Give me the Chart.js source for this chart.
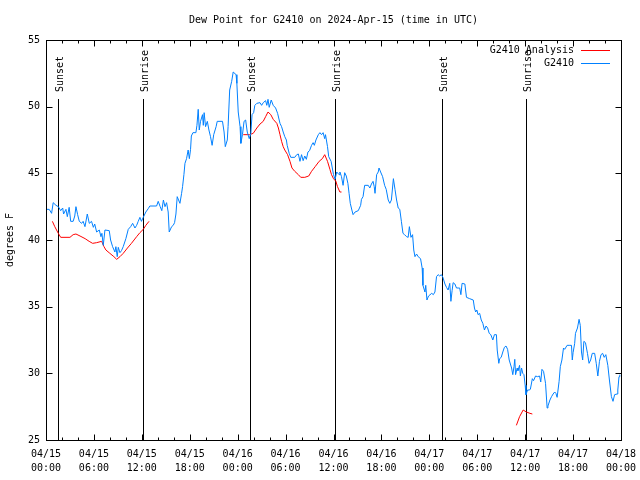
<!DOCTYPE html>
<html><head><meta charset="utf-8">
<script src="https://cdn.jsdelivr.net/npm/chart.js@4/dist/chart.umd.min.js"></script>
<style>html,body{margin:0;padding:0;background:#fff}canvas{display:block}</style>
</head><body>
<canvas id="c" width="640" height="480"></canvas>
<script>
const chartTitle = 'Dew Point for G2410 on 2024-Apr-15 (time in UTC)';
const yAxisTitle = 'degrees F';
const seriesNames = ['G2410 Analysis', 'G2410'];
const xTickLabels = ['04/15 00:00','04/15 06:00','04/15 12:00','04/15 18:00','04/16 00:00','04/16 06:00','04/16 12:00','04/16 18:00','04/17 00:00','04/17 06:00','04/17 12:00','04/17 18:00','04/18 00:00'];
const yTickValues = [25, 30, 35, 40, 45, 50, 55];
// hours since 04/15 00:00 UTC
const sunsetHours = [1.55, 25.57, 49.6];
const sunriseHours = [12.18, 36.2, 60.1];
const markerTopValue = 50.6;

const blueHours = [0.0,0.4,0.7,0.9,1.25,1.55,1.84,2.09,2.2,2.5,2.67,2.9,3.09,3.4,3.6,3.75,3.96,4.17,4.46,4.65,4.88,5.17,5.42,5.7,5.93,6.1,6.34,6.67,6.88,7.0,7.17,7.38,7.92,8.09,8.34,8.63,8.75,8.92,9.05,9.26,9.45,9.67,10.0,10.3,10.6,10.85,11.14,11.35,11.55,11.76,11.95,12.18,12.5,12.8,13.0,13.85,14.05,14.3,14.5,14.7,14.9,15.1,15.3,15.43,15.73,15.93,16.1,16.27,16.43,16.6,16.77,16.98,17.1,17.27,17.4,17.6,17.8,17.95,18.1,18.2,18.4,18.77,18.9,19.06,19.19,19.35,19.6,19.7,19.8,19.98,20.2,20.4,20.6,20.8,21.0,21.3,21.44,22.1,22.3,22.45,22.7,22.8,23.0,23.25,23.44,23.8,23.9,24.07,24.3,24.4,24.6,24.8,25.0,25.2,25.45,25.65,25.8,26.0,26.15,26.4,26.8,27.0,27.2,27.5,27.65,27.8,27.95,28.2,28.45,28.75,29.0,29.3,29.5,29.7,29.9,30.1,30.2,30.45,30.65,31.15,31.4,31.6,31.8,32.0,32.2,32.4,32.6,32.8,33.0,33.25,33.45,33.6,33.8,34.1,34.3,34.5,34.7,34.9,35.0,35.25,35.4,35.7,35.85,36.0,36.2,36.4,36.7,36.8,37.0,37.2,37.4,37.6,37.8,37.95,38.1,38.3,38.45,38.7,39.1,39.4,39.5,39.7,39.9,40.35,40.55,40.75,40.95,41.1,41.2,41.4,41.6,41.7,41.9,42.15,42.4,42.6,42.85,43.05,43.25,43.5,43.7,43.9,44.1,44.3,44.5,44.7,44.9,45.15,45.35,45.5,45.7,45.9,46.05,46.2,46.4,46.6,46.9,47.1,47.2,47.45,47.55,47.7,47.9,48.3,48.5,48.7,48.9,49.1,49.3,49.5,49.7,49.95,50.15,50.35,50.56,50.7,50.85,50.98,51.2,51.4,51.6,51.8,51.95,52.1,52.45,52.65,53.05,53.5,53.65,53.8,53.95,54.1,54.3,54.5,54.7,54.9,55.1,55.3,55.5,55.7,55.95,56.15,56.4,56.5,56.7,56.8,57.0,57.2,57.4,57.6,57.8,58.0,58.3,58.45,58.6,58.7,58.8,59.0,59.1,59.3,59.4,59.55,59.7,59.85,60.0,60.1,60.3,60.5,60.65,60.9,61.05,61.3,61.55,61.8,61.95,62.1,62.3,62.55,62.75,62.85,63.1,63.3,63.5,63.7,63.85,64.0,64.25,64.4,64.6,64.8,64.95,65.25,65.6,65.8,65.9,66.0,66.2,66.3,66.55,66.75,66.9,67.05,67.2,67.35,67.55,67.8,68.0,68.2,68.4,68.7,68.9,69.1,69.3,69.5,69.7,69.9,70.1,70.35,70.55,70.8,71.0,71.2,71.5,71.6,71.75,71.85];
const blueValues = [42.3,42.3,42.0,42.8,42.6,42.5,42.2,42.4,41.95,42.3,41.75,42.45,41.4,41.4,41.8,42.5,41.9,41.4,41.25,41.4,41.0,41.95,41.25,41.4,40.95,41.2,40.6,40.75,40.25,40.5,39.6,40.75,40.7,40.0,39.5,39.1,39.5,38.75,39.45,39.05,39.2,39.5,40.1,40.8,41.0,41.25,40.9,41.1,41.4,41.7,41.4,41.7,42.1,42.35,42.55,42.55,42.9,42.5,42.2,43.0,42.5,42.8,42.1,40.6,41.0,41.1,41.3,41.95,43.25,43.0,42.75,43.5,44.0,44.9,45.75,46.1,46.75,46.1,46.8,47.8,48.05,48.05,48.6,49.8,48.25,48.9,49.4,48.6,49.55,48.5,48.9,48.25,47.75,47.1,47.9,48.5,48.9,48.9,48.1,47.0,47.5,48.5,51.25,51.9,52.6,52.4,51.75,49.6,48.5,47.25,47.9,48.9,49.0,48.1,47.6,48.0,49.4,49.55,50.1,50.25,50.3,50.1,50.3,50.45,50.1,50.55,49.95,50.5,50.1,49.9,49.5,48.75,48.5,48.1,47.75,47.5,47.1,46.5,46.2,46.2,46.4,46.45,45.9,46.4,45.95,46.3,46.05,46.6,46.7,47.1,47.3,47.1,47.5,47.9,48.05,47.9,48.05,47.6,47.9,47.0,46.25,45.9,45.4,44.9,44.55,45.1,44.9,45.1,44.75,44.1,45.05,44.8,44.25,43.5,42.75,42.25,41.9,42.1,42.2,42.6,43.05,43.25,44.1,44.1,43.9,44.2,44.4,44.0,43.5,44.9,45.1,45.4,45.1,44.75,44.1,43.8,43.0,42.75,43.0,44.6,43.8,43.0,42.4,42.3,41.4,40.5,40.4,40.25,40.2,41.0,40.2,40.4,39.25,38.75,38.95,38.75,38.6,37.9,36.6,36.1,36.6,35.5,35.8,36.0,35.9,36.1,37.25,37.4,37.3,37.4,37.2,36.7,36.45,36.25,36.75,35.4,36.2,36.8,36.7,36.4,36.4,36.4,35.9,36.75,36.7,35.7,35.6,35.5,34.9,34.6,34.75,34.4,34.5,34.0,33.75,33.25,33.55,33.4,33.0,32.9,32.5,32.9,32.9,31.75,30.75,31.1,31.2,31.6,31.95,32.05,31.8,31.0,30.4,29.9,30.5,31.05,29.9,30.4,30.2,30.6,29.8,30.4,30.0,29.9,29.1,28.4,28.75,28.75,28.8,29.6,29.45,29.8,29.75,29.8,29.35,30.3,30.15,29.25,27.4,27.55,28.0,28.25,28.45,28.6,28.5,28.2,29.4,30.5,31.0,31.9,31.8,32.1,32.1,32.1,31.0,31.55,32.25,33.0,33.4,34.05,33.6,31.6,31.0,32.4,32.3,31.5,30.75,31.0,31.5,31.5,30.75,29.8,30.9,31.4,31.5,31.2,31.4,30.6,29.5,28.25,27.9,28.4,28.45,28.75,29.75,29.9];

const redHours = [0.8,1.1,1.54,1.84,3.0,3.4,3.75,4.26,4.9,5.4,5.84,6.34,6.97,7.26,7.5,8.0,8.5,8.85,9.26,9.67,10.2,10.7,11.35,11.76,12.18,12.5,12.9,18.0,24.7,25.5,25.95,26.4,26.8,27.2,27.5,27.8,28.15,28.45,28.9,29.1,29.3,29.5,29.7,29.9,30.25,30.55,30.8,31.15,31.6,31.9,32.4,32.9,33.25,33.7,34.2,34.6,34.9,35.25,35.55,35.75,36.0,36.3,36.5,36.8,37.0,48.0,58.9,59.3,59.75,60.15,60.6,60.9];
const redValues = [41.4,41.0,40.5,40.2,40.2,40.4,40.45,40.3,40.1,39.9,39.75,39.8,39.9,39.5,39.25,39.0,38.75,38.55,38.75,39.0,39.4,39.75,40.25,40.55,40.8,41.1,41.4,null,47.9,47.9,48.0,48.4,48.7,48.9,49.25,49.6,49.4,49.05,48.75,48.4,47.9,47.4,47.0,46.75,46.4,45.9,45.4,45.15,44.9,44.7,44.7,44.8,45.15,45.5,45.9,46.1,46.4,45.9,45.3,44.9,44.6,44.4,44.0,43.6,43.6,null,26.1,26.75,27.25,27.1,27.0,26.95];

const FAMILY = '"DejaVu Sans Mono", "Liberation Mono", monospace';
const FONT = '10px ' + FAMILY;
const RED = 'rgb(255,0,0)';
const BLUE = 'rgb(0,128,255)';

const gnuplotDecor = {
  id: 'gnuplotDecor',
  beforeDatasetsDraw(chart) {
    const {ctx, chartArea: a, scales: {x, y}} = chart;
    ctx.save();
    ctx.strokeStyle = '#000'; ctx.lineWidth = 1; ctx.fillStyle = '#000'; ctx.font = FONT;
    const topPx = Math.round(y.getPixelForValue(markerTopValue));
    const draw = (h, label) => {
      const px = Math.round(x.getPixelForValue(h)) + 0.5;
      ctx.beginPath(); ctx.moveTo(px, topPx); ctx.lineTo(px, a.bottom); ctx.stroke();
      ctx.save(); ctx.translate(px + 1.5, topPx - 7); ctx.rotate(-Math.PI / 2);
      ctx.textAlign = 'left'; ctx.textBaseline = 'middle'; ctx.fillText(label, 0, 0);
      ctx.restore();
    };
    sunsetHours.forEach(h => draw(h, 'Sunset'));
    sunriseHours.forEach(h => draw(h, 'Sunrise'));
    ctx.restore();
  },
  afterDraw(chart) {
    const {ctx, chartArea: a, scales: {x, y}} = chart;
    ctx.save();
    ctx.strokeStyle = '#000'; ctx.lineWidth = 1;
    const L = Math.round(a.left) + 0.5, R = Math.round(a.right) + 0.5;
    const T = Math.round(a.top) + 0.5, B = Math.round(a.bottom) + 0.5;
    ctx.strokeRect(L, T, R - L, B - T);
    const line = (x1, y1, x2, y2) => { ctx.beginPath(); ctx.moveTo(x1, y1); ctx.lineTo(x2, y2); ctx.stroke(); };
    for (let h = x.min; h <= x.max; h += 2) {
      const px = Math.round(x.getPixelForValue(h)) + 0.5;
      const len = h % 6 === 0 ? 6 : 3;
      line(px, B, px, B - len); line(px, T, px, T + len);
    }
    yTickValues.forEach(v => {
      const py = Math.round(y.getPixelForValue(v)) + 0.5;
      line(L, py, L + 6, py); line(R, py, R - 6, py);
    });
    // legend (gnuplot style: text then sample line)
    ctx.font = FONT; ctx.fillStyle = '#000'; ctx.textAlign = 'right'; ctx.textBaseline = 'middle';
    chart.data.datasets.forEach((ds, i) => {
      const ly = Math.round(a.top + 10 + i * 12.5) + 0.5;
      ctx.fillText(ds.label, a.right - 47, ly);
      ctx.strokeStyle = ds.borderColor;
      line(a.right - 40, ly, a.right - 11, ly);
    });
    ctx.restore();
  }
};

const toPts = (hs, vs) => hs.map((h, i) => ({x: h, y: vs[i]}));

new Chart(document.getElementById('c'), {
  type: 'line',
  data: {
    datasets: [
      {label: seriesNames[0], data: toPts(redHours, redValues), borderColor: RED, borderWidth: 1, pointRadius: 0, tension: 0, spanGaps: false, order: 2},
      {label: seriesNames[1], data: toPts(blueHours, blueValues), borderColor: BLUE, borderWidth: 1, pointRadius: 0, tension: 0, order: 1}
    ]
  },
  options: {
    responsive: false,
    animation: false,
    layout: {padding: {left: 0, right: 19, top: 0, bottom: 0}},
    plugins: {
      legend: {display: false},
      tooltip: {enabled: false},
      title: {display: true, text: chartTitle, color: '#000', fullSize: false,
        font: {family: FAMILY, size: 10, weight: 'normal', lineHeight: 1.2}, padding: {top: 14, bottom: 14}}
    },
    scales: {
      x: {
        type: 'linear', min: 0, max: 72,
        grid: {display: false, drawTicks: false}, border: {display: false},
        ticks: {stepSize: 6, autoSkip: false, maxRotation: 0, color: '#000', padding: 7,
          font: {family: FAMILY, size: 10, lineHeight: 1.4},
          callback: (v) => { const s = xTickLabels[Math.round(v / 6)]; return s ? s.split(' ') : ''; }},
        afterFit: (s) => { s.height = 40; s.paddingLeft = 0; s.paddingRight = 0; }
      },
      y: {
        min: 25, max: 55,
        grid: {display: false, drawTicks: false}, border: {display: false},
        ticks: {stepSize: 5, color: '#000', padding: 6, font: {family: FAMILY, size: 10}},
        title: {display: true, text: yAxisTitle, color: '#000', font: {family: FAMILY, size: 10}, padding: {top: 4, bottom: 0}},
        afterFit: (s) => { s.width = 46; s.paddingTop = 0; s.paddingBottom = 0; }
      }
    }
  },
  plugins: [gnuplotDecor]
});
</script>
</body></html>
